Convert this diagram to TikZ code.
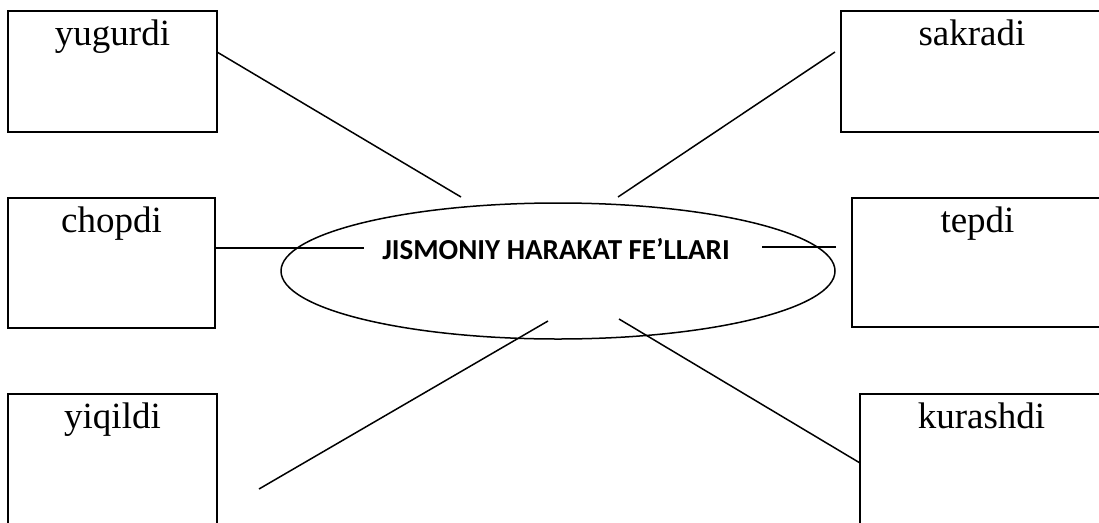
\documentclass[tikz,border=0pt]{standalone}
\usepackage{fontspec}
\setmainfont{Liberation Serif}
\newfontfamily\titlefont{Carlito}
\usetikzlibrary{shapes.geometric}
\begin{document}
\begin{tikzpicture}[x=1pt,y=-1pt,
  wordbox/.style 2 args={draw, line width=2pt, minimum width=#1, minimum height=#2, inner sep=0pt, outer sep=0pt, anchor=north west},
  word/.style={anchor=base, font=\fontsize{37}{40}\selectfont},
  link/.style={line width=1.5pt},
  ring/.style={draw, ellipse, line width=1.5pt, minimum width=554pt, minimum height=136pt, inner sep=0pt},
  title/.style={anchor=base, font=\titlefont\bfseries\fontsize{29}{32}\selectfont}]
\useasboundingbox (0,0) rectangle (1099,522);
\clip (0,0) rectangle (1099,522);
% boxes
\node[wordbox={209pt}{121pt}] (yug) at (8,11) {};
\node[wordbox={262pt}{121pt}] (sak) at (841,11) {};
\node[wordbox={207pt}{130pt}] (cho) at (8,198) {};
\node[wordbox={251pt}{129pt}] (tep) at (852,198) {};
\node[wordbox={209pt}{135pt}] (yiq) at (8,394) {};
\node[wordbox={243pt}{135pt}] (kur) at (860,394) {};
% labels
\node[word] (tyug) at ([yshift=-34pt]yug.north) {yugurdi};
\node[word] (tsak) at ([yshift=-34pt]sak.north) {sakradi};
\node[word] (tcho) at ([yshift=-34pt]cho.north) {chopdi};
\node[word] (ttep) at ([yshift=-34pt]tep.north) {tepdi};
\node[word] (tyiq) at ([yshift=-34pt]yiq.north) {yiqildi};
\node[word] (tkur) at ([yshift=-34pt]kur.north) {kurashdi};
% centre
\node[ring] (hub) at (558,271) {};
\node[title] (htext) at (556,259) {JISMONIY HARAKAT FE’LLARI};
% free ends
\coordinate (yugend) at (461,197);
\coordinate (sakend) at (618,197);
\coordinate (choend) at (364,248);
\coordinate (tepend) at (762,247);
\coordinate (yiqA) at (259,489);
\coordinate (yiqB) at (548,321);
\coordinate (kurend) at (619,319);
% connectors
\draw[link] ([yshift=-41pt]yug.north east) -- (yugend);
\draw[link] ([xshift=-6pt,yshift=-41pt]sak.north west) -- (sakend);
\draw[link] ([yshift=-50pt]cho.north east) -- (choend);
\draw[link] ([xshift=-16pt,yshift=-49pt]tep.north west) -- (tepend);
\draw[link] (yiqA) -- (yiqB);
\draw[link] ([yshift=-69pt]kur.north west) -- (kurend);
\end{tikzpicture}
\end{document}
